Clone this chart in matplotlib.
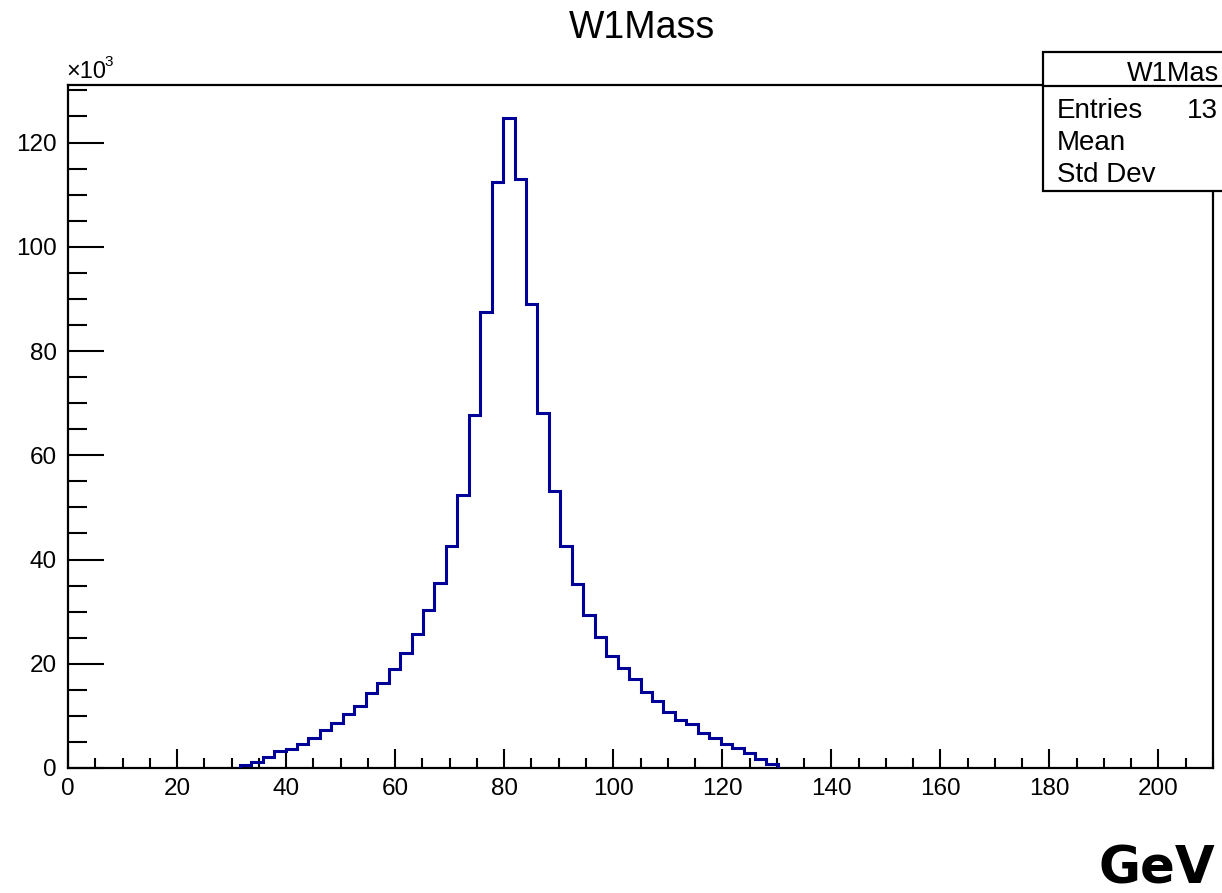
import numpy as np
import matplotlib
matplotlib.use("Agg")
import matplotlib.pyplot as plt
from matplotlib.ticker import MultipleLocator
from matplotlib.patches import Rectangle

# W1Mass histogram, 100 bins over 0-210 GeV, only bins 15..61 are filled
bin_width = 2.1
first_bin = 15
counts_k = [
    0.6, 1.2, 2.2, 3.2, 3.7, 4.7, 5.7, 7.3, 8.7, 10.3,
    11.9, 14.4, 16.4, 19.0, 22.1, 25.7, 30.3, 35.4, 42.6, 52.3,
    67.7, 87.5, 112.5, 124.8, 113.0, 89.1, 68.1, 53.2, 42.5, 35.3,
    29.3, 25.1, 21.5, 19.1, 17.0, 14.5, 12.9, 10.8, 9.3, 8.4,
    6.8, 5.8, 4.7, 3.8, 2.8, 1.7, 0.7,
]
x_min, x_max = 0, 210
stat_labels = ["Entries", "Mean", "Std Dev"]
entries_text = "13"  # rest of the value is cut off at the right edge

edges = (first_bin + np.arange(len(counts_k) + 1)) * bin_width

plt.rcParams["font.family"] = ["Liberation Sans", "DejaVu Sans"]

fig = plt.figure(figsize=(12.22, 8.93), dpi=100)
ax = fig.add_axes([68 / 1222, 125 / 893, 1145 / 1222, 683 / 893])

ax.stairs(counts_k, edges, baseline=0, color="#000099", linewidth=2.2, zorder=3)

ax.set_xlim(x_min, x_max)
ax.set_ylim(0, max(counts_k) * 1.05)

ax.xaxis.set_major_locator(MultipleLocator(20))
ax.xaxis.set_minor_locator(MultipleLocator(5))
ax.yaxis.set_major_locator(MultipleLocator(20))
ax.yaxis.set_minor_locator(MultipleLocator(5))

ax.tick_params(axis="x", which="major", direction="in", length=14, width=1.5, pad=7, labelsize=17.5)
ax.tick_params(axis="x", which="minor", direction="in", length=7, width=1.5)
ax.tick_params(axis="y", which="major", direction="in", length=26, width=1.5, pad=8, labelsize=17.5)
ax.tick_params(axis="y", which="minor", direction="in", length=14, width=1.5)
for s in ax.spines.values():
    s.set_linewidth(1.6)

fig.text(642 / 1222, 1 - 28 / 893, "W1Mass", ha="center", va="center", fontsize=27)

# x10^3 exponent label
fig.text(66 / 1222, 1 - 78 / 893, "\u00d710", ha="left", va="baseline", fontsize=17)
fig.text(104 / 1222, 1 - 66 / 893, "3", ha="left", va="baseline", fontsize=11)

# stats box (cut off at the right edge like the original)
box = Rectangle((1043 / 1222, 1 - 191 / 893), 0.2, 139 / 893, transform=fig.transFigure,
                facecolor="white", edgecolor="black", linewidth=1.6, zorder=5)
fig.patches.append(box)
fig.add_artist(plt.Line2D([1043 / 1222, 1.1], [1 - 86 / 893, 1 - 86 / 893],
                          transform=fig.transFigure, color="black", linewidth=1.6, zorder=6))
fig.text(1127 / 1222, 1 - 81 / 893, "W1Mas", ha="left", va="baseline", fontsize=19.5, zorder=7)
for i, lab in enumerate(stat_labels):
    yb = 1 - (118 + 32 * i) / 893
    fig.text(1057 / 1222, yb, lab, ha="left", va="baseline", fontsize=20, zorder=7)
fig.text(1187 / 1222, 1 - 118 / 893, entries_text, ha="left", va="baseline", fontsize=20, zorder=7)

fig.text(1215 / 1222, 1 - 884 / 893, "GeV", ha="right", va="baseline",
         fontsize=37, fontweight="bold", family="DejaVu Sans")

fig.savefig("out.png", dpi=100)
